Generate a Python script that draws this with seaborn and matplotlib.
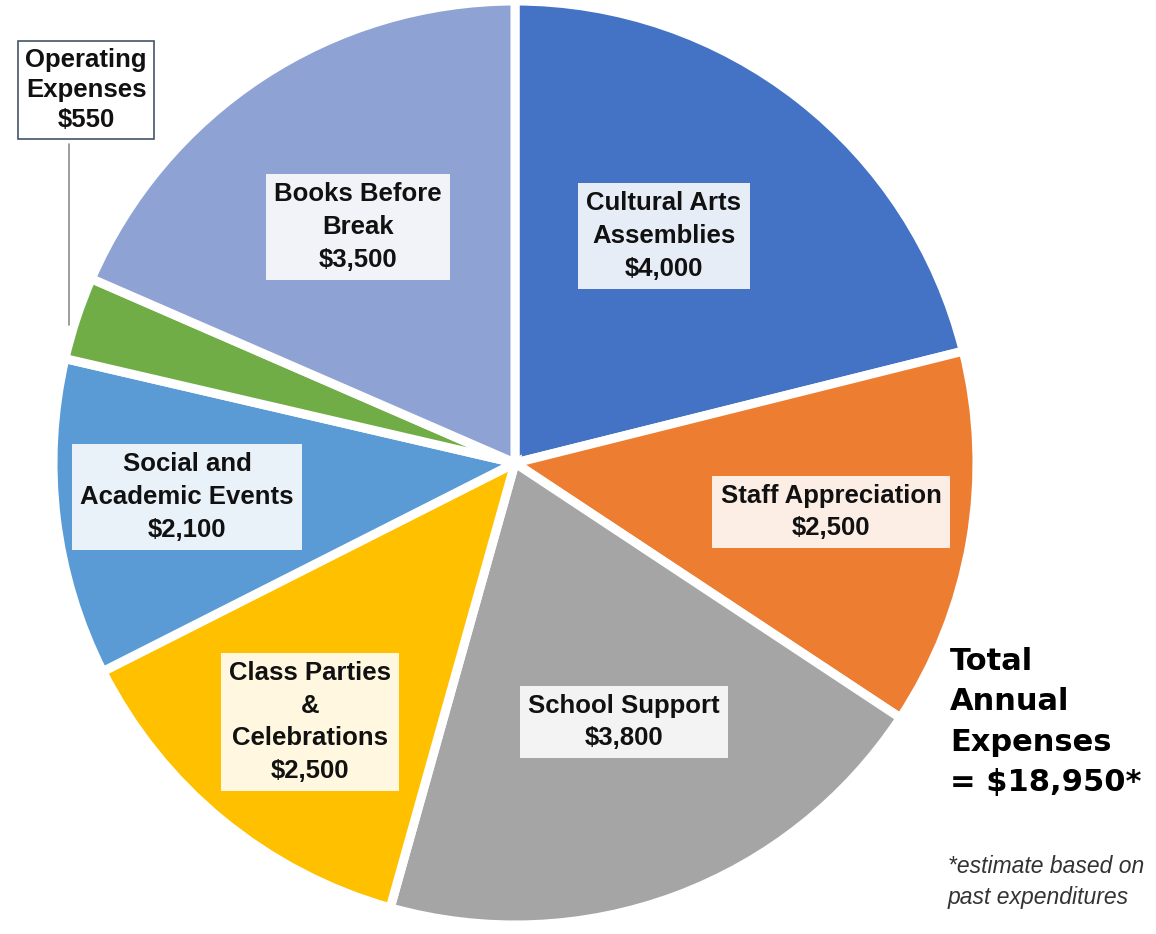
import matplotlib
matplotlib.use("Agg")
import matplotlib.pyplot as plt
import seaborn as sns

categories = ["Cultural Arts\nAssemblies", "Staff Appreciation", "School Support",
              "Class Parties\n&\nCelebrations", "Social and\nAcademic Events",
              "Operating\nExpenses", "Books Before\nBreak"]
values = [4000, 2500, 3800, 2500, 2100, 550, 3500]
colors = ["#4472C4", "#ED7D31", "#A5A5A5", "#FFC000", "#5B9BD5", "#70AD47", "#8FA2D4"]
total_label = "Total\nAnnual\nExpenses\n= $18,950*"
footnote = "*estimate based on\npast expenditures"

sns.set_theme(style="white")
plt.rcParams['font.family'] = ['Liberation Sans', 'DejaVu Sans']

W, H = 1156, 934
fig = plt.figure(figsize=(W / 100, H / 100), dpi=100)
cx, cy, r = 515, 463, 462
ax = fig.add_axes([(cx - r) / W, (H - cy - r) / H, 2 * r / W, 2 * r / H])
ax.pie(values, colors=colors, startangle=90, counterclock=False, radius=1,
       wedgeprops=dict(edgecolor="white", linewidth=6.5))
ax.set_xlim(-1, 1)
ax.set_ylim(-1, 1)
ax.set_aspect("equal")
ax.axis("off")

def px(x, y):
    return x / W, 1 - y / H

# label positions in pixel coordinates (placement only)
label_pos = [(664, 236), (831, 512), (624, 722), (310, 722), (187, 497), (86, 90), (358, 227)]

for i, (lab, v) in enumerate(zip(categories, values)):
    txt = f"{lab}\n${v:,}"
    x, y = label_pos[i]
    if i == 5:
        fig.text(*px(x, y), txt, ha="center", va="center", fontsize=18.5,
                 fontweight="bold", color="#111111", linespacing=1.3,
                 bbox=dict(boxstyle="square,pad=0.3", facecolor="white",
                           edgecolor="#44546A", linewidth=1.2))
    else:
        fig.text(*px(x, y), txt, ha="center", va="center", fontsize=18.5,
                 fontweight="bold", color="#111111", linespacing=1.45,
                 bbox=dict(boxstyle="square,pad=0.32", facecolor="white",
                           edgecolor="none", alpha=0.88))

# leader line for Operating Expenses
fig.add_artist(plt.Line2D([69 / W, 69 / W], [1 - 144 / H, 1 - 325 / H],
                          color="#8C8C8C", linewidth=1.2))

fig.text(*px(950, 722), total_label, ha="left", va="center", fontsize=22,
         fontweight="heavy", family=["DejaVu Sans"], color="black", linespacing=1.5)
fig.text(*px(948, 882), footnote, ha="left", va="center", fontsize=16.5,
         style="italic", color="#333333", linespacing=1.45)

fig.savefig("out.png", dpi=100)
